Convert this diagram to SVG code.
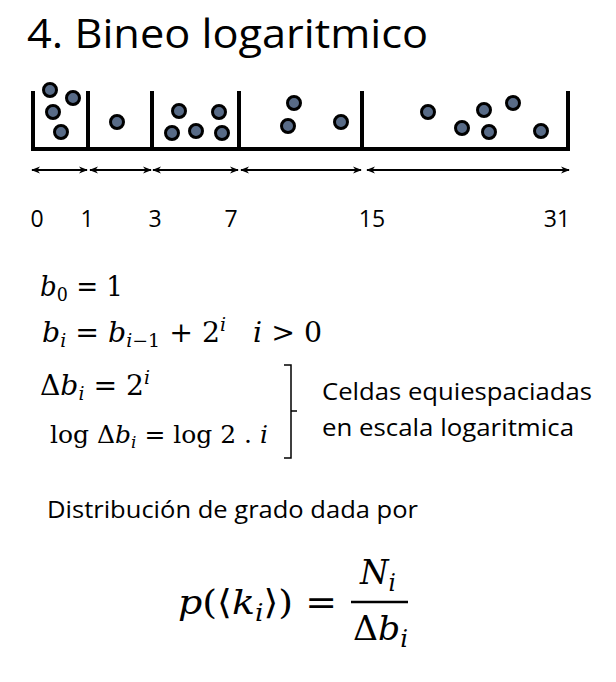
<svg xmlns="http://www.w3.org/2000/svg" width="616" height="682" viewBox="0 0 616 682">
<style>
.sans{font-family:"Open Sans","Liberation Sans",sans-serif;fill:#000}
.m{font-family:"DejaVu Serif","Liberation Serif",serif;fill:#000}
.it{font-style:italic}
.wall{stroke:#000;stroke-width:4;fill:none;stroke-linecap:square}
.ball{fill:#586b87;stroke:#000;stroke-width:3}
.arr{stroke:#000;stroke-width:2;fill:none}
</style>
<defs>
<marker id="ah" viewBox="0 0 10 10" refX="9" refY="5" markerWidth="9" markerHeight="9" orient="auto-start-reverse" markerUnits="userSpaceOnUse">
<path d="M0,1 L10,5 L0,9 L3,5 Z" fill="#000"/>
</marker>
</defs>
<rect width="616" height="682" fill="#fff"/>
<text id="title" class="sans" x="27" y="48" font-size="40" textLength="401" lengthAdjust="spacingAndGlyphs">4. Bineo logaritmico</text>

<g id="bins">
<path class="wall" d="M33,93 V149 H568 V93 M88,93 V149 M152,93 V149 M239,93 V149 M362,93 V149"/>
</g>
<g id="balls">
<circle class="ball" cx="50" cy="90" r="6.5"/>
<circle class="ball" cx="73" cy="98" r="6.5"/>
<circle class="ball" cx="53" cy="112" r="6.5"/>
<circle class="ball" cx="61" cy="132" r="6.5"/>
<circle class="ball" cx="117" cy="122" r="6.5"/>
<circle class="ball" cx="179" cy="111" r="6.5"/>
<circle class="ball" cx="219" cy="112" r="6.5"/>
<circle class="ball" cx="172" cy="133" r="6.5"/>
<circle class="ball" cx="196" cy="131" r="6.5"/>
<circle class="ball" cx="222" cy="133" r="6.5"/>
<circle class="ball" cx="294" cy="103" r="6.5"/>
<circle class="ball" cx="288" cy="126" r="6.5"/>
<circle class="ball" cx="341" cy="122" r="6.5"/>
<circle class="ball" cx="428" cy="112" r="6.5"/>
<circle class="ball" cx="484" cy="110" r="6.5"/>
<circle class="ball" cx="513" cy="103" r="6.5"/>
<circle class="ball" cx="462" cy="128" r="6.5"/>
<circle class="ball" cx="489" cy="132" r="6.5"/>
<circle class="ball" cx="541" cy="131" r="6.5"/>
</g>
<g id="connectors">
<line class="arr" x1="32" y1="170" x2="87" y2="170" marker-start="url(#ah)" marker-end="url(#ah)"/>
<line class="arr" x1="90" y1="170" x2="151" y2="170" marker-start="url(#ah)" marker-end="url(#ah)"/>
<line class="arr" x1="153" y1="170" x2="238" y2="170" marker-start="url(#ah)" marker-end="url(#ah)"/>
<line class="arr" x1="241" y1="170" x2="361" y2="170" marker-start="url(#ah)" marker-end="url(#ah)"/>
<line class="arr" x1="367" y1="170" x2="569" y2="170" marker-start="url(#ah)" marker-end="url(#ah)"/>
</g>
<g id="ticks" class="sans" font-size="23" text-anchor="middle">
<text x="37" y="227">0</text>
<text x="87" y="227">1</text>
<text x="155" y="227">3</text>
<text x="231" y="227">7</text>
<text x="372" y="227">15</text>
<text x="557" y="227">31</text>
</g>

<g id="eqs" class="m" font-size="27">
<text x="40" y="296" textLength="83" lengthAdjust="spacingAndGlyphs"><tspan class="it">b</tspan><tspan font-size="18" dy="5">0</tspan><tspan dy="-5"> = 1</tspan></text>
<text x="42" y="342" textLength="280" lengthAdjust="spacingAndGlyphs" xml:space="preserve"><tspan class="it">b</tspan><tspan class="it" font-size="18" dy="5">i</tspan><tspan dy="-5"> = </tspan><tspan class="it">b</tspan><tspan class="it" font-size="18" dy="5">i</tspan><tspan font-size="18">−1</tspan><tspan dy="-5"> + 2</tspan><tspan class="it" font-size="18" dy="-11">i</tspan><tspan dy="11">   </tspan><tspan class="it">i</tspan><tspan> &gt; 0</tspan></text>
<text x="40" y="395" textLength="110" lengthAdjust="spacingAndGlyphs"><tspan>Δ</tspan><tspan class="it">b</tspan><tspan class="it" font-size="18" dy="5">i</tspan><tspan dy="-5"> = 2</tspan><tspan class="it" font-size="18" dy="-11">i</tspan></text>
<text x="50" y="443" font-size="25" textLength="218" lengthAdjust="spacingAndGlyphs"><tspan>log Δ</tspan><tspan class="it">b</tspan><tspan class="it" font-size="17" dy="5">i</tspan><tspan dy="-5"> = log 2 . </tspan><tspan class="it">i</tspan></text>
</g>
<g id="brace">
<path d="M284,365 H291 V458 H284 M291,411 L297,411" stroke="#000" stroke-width="1.5" fill="none"/>
</g>
<g id="note" class="sans" font-size="23">
<text x="322" y="400" textLength="270" lengthAdjust="spacingAndGlyphs">Celdas equiespaciadas</text>
<text x="322" y="436" textLength="252" lengthAdjust="spacingAndGlyphs">en escala logaritmica</text>
</g>
<text id="dist" class="sans" x="47" y="518" font-size="24" textLength="371" lengthAdjust="spacingAndGlyphs">Distribución de grado dada por</text>

<g id="formula" class="m" font-size="34">
<text x="178" y="614" textLength="159" lengthAdjust="spacingAndGlyphs"><tspan class="it">p</tspan><tspan>(⟨</tspan><tspan class="it">k</tspan><tspan class="it" font-size="24" dy="7">i</tspan><tspan dy="-7">⟩) =</tspan></text>
<line x1="351" y1="602" x2="408" y2="602" stroke="#000" stroke-width="2.5"/>
<text x="360" y="584" textLength="36" lengthAdjust="spacingAndGlyphs"><tspan class="it">N</tspan><tspan class="it" font-size="24" dy="7">i</tspan></text>
<text x="353" y="640" textLength="55" lengthAdjust="spacingAndGlyphs"><tspan>Δ</tspan><tspan class="it">b</tspan><tspan class="it" font-size="24" dy="7">i</tspan></text>
</g>
</svg>
